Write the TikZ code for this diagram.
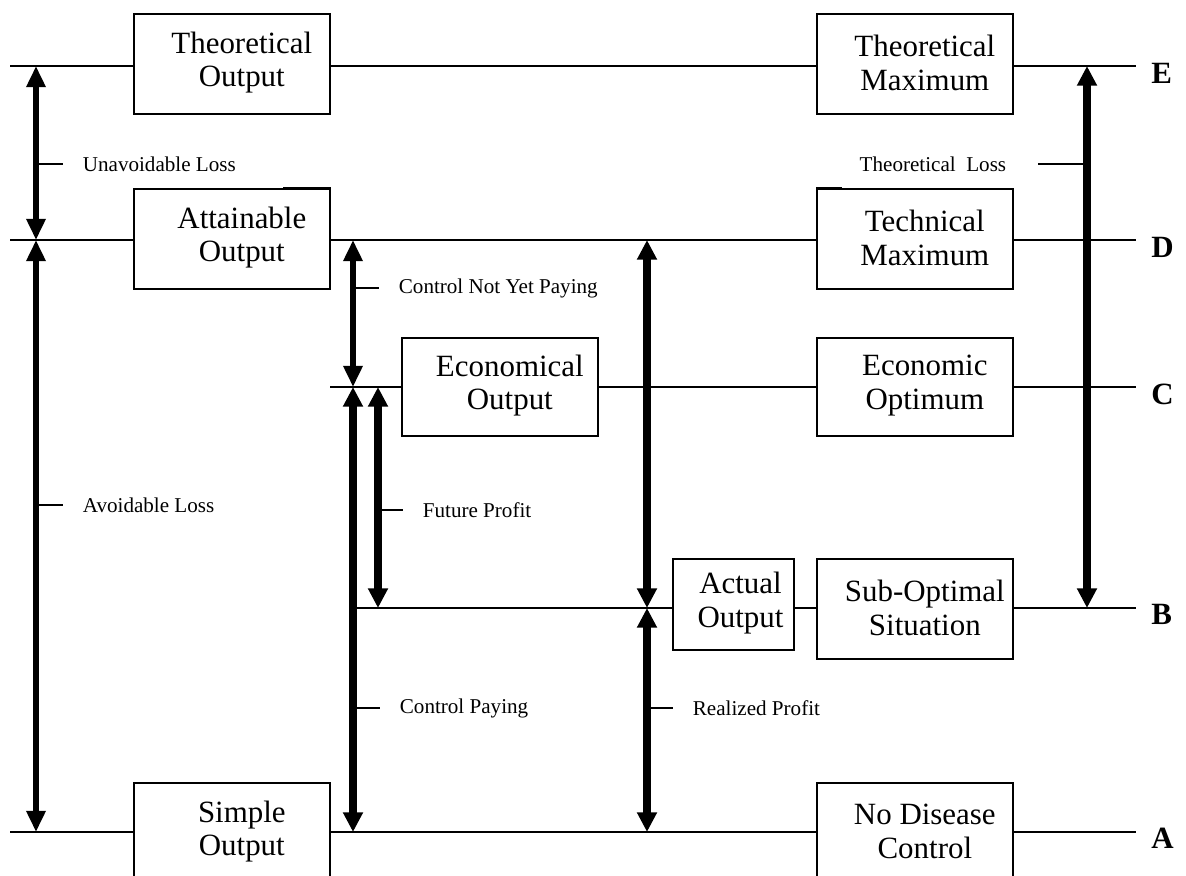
\documentclass[tikz,border=0pt]{standalone}
\usepackage{fontspec}
\setmainfont{Liberation Serif}
\usetikzlibrary{arrows.meta}

\begin{document}
\begin{tikzpicture}[
  x=0.025cm, y=-0.025cm,
  box/.style={rectangle, draw, fill=white, line width=1.3pt,
              minimum width=4.9cm, minimum height=2.5cm, inner sep=0pt},
  boxtxt/.style={align=center, font=\fontsize{22}{24}\selectfont,
                 xshift=7pt, yshift=1pt},
  lvl/.style={line width=1.3pt},
  tick/.style={line width=1.3pt},
  letter/.style={anchor=west, inner sep=0pt,
                 font=\fontsize{22}{24}\selectfont\bfseries},
  lbl/.style={anchor=west, inner sep=0pt, xshift=13.5pt,
              font=\fontsize{15}{17}\selectfont},
  lblleft/.style={anchor=east, inner sep=0pt, xshift=-22pt,
                  font=\fontsize{15}{17}\selectfont},
  dim/.style={{Triangle[width=13pt,length=15pt]}-{Triangle[width=13pt,length=15pt]},
              line width=4pt},
  dimthick/.style={{Triangle[width=13.5pt,length=14pt]}-{Triangle[width=13.5pt,length=14pt]},
                   line width=6pt},
]
  \useasboundingbox (0,0) rectangle (1186,876);
  \clip (0,0) rectangle (1186,876);

  %% -- Output levels ----------------------------------------------------
  \coordinate (E) at (0,66);
  \coordinate (D) at (0,240);
  \coordinate (C) at (0,387);
  \coordinate (B) at (0,608);
  \coordinate (A) at (0,832);

  \draw[lvl] (10,0 |- E)  -- (1136,0 |- E);
  \draw[lvl] (10,0 |- D)  -- (1136,0 |- D);
  \draw[lvl] (330,0 |- C) -- (1136,0 |- C);
  \draw[lvl] (353,0 |- B) -- (1136,0 |- B);
  \draw[lvl] (10,0 |- A)  -- (1136,0 |- A);

  \node[letter] (lE) at (1151,73)  {E};
  \node[letter] (lD) at (1151,247) {D};
  \node[letter] (lC) at (1151,394) {C};
  \node[letter] (lB) at (1151,614) {B};
  \node[letter] (lA) at (1151,838) {A};

  %% -- Boxes ------------------------------------------------------------
  \node[box, label={[boxtxt]center:{Theoretical\\Output}}] (tout) at (232,64)  {};
  \node[box, label={[boxtxt]center:{Attainable\\Output}}]  (aout) at (232,239) {};
  \node[box, label={[boxtxt]center:{Simple\\Output}}]      (sout) at (232,833) {};
  \node[box, minimum height=2.45cm,
        label={[boxtxt]center:{Economical\\Output}}]      (eout) at (500,387) {};
  \node[box, minimum width=3.025cm, minimum height=2.275cm,
        label={[boxtxt, xshift=-2pt]center:{Actual\\Output}}] (act) at (733.5,604.5) {};

  \node[box, label={[boxtxt]center:{Theoretical\\Maximum}}] (tmax) at (915,64)  {};
  \node[box, label={[boxtxt]center:{Technical\\Maximum}}]   (tech) at (915,239) {};
  \node[box, minimum height=2.45cm,
        label={[boxtxt]center:{Economic\\Optimum}}]       (eopt) at (915,387) {};
  \node[box, label={[boxtxt]center:{Sub-Optimal\\Situation}}] (sub) at (915,609) {};
  \node[box, label={[boxtxt]center:{No Disease\\Control}}]  (nodc) at (915,833) {};

  %% stray edges on the box tops
  \draw[lvl] (283,187.5) -- (aout.north east |- 0,187.5);
  \draw[lvl] (tech.north west |- 0,187.5) -- (842,187.5);

  %% -- Loss and profit spans ---------------------------------------------
  \draw[dim]      (36,0 |- E)   -- (36,0 |- D);
  \draw[dim]      (36,0 |- D)   -- (36,0 |- A);
  \draw[dim]      (353,0 |- D)  -- (353,0 |- C);
  \draw[dimthick] (353,0 |- C)  -- (353,0 |- A);
  \draw[dimthick] (378,0 |- C)  -- (378,0 |- B);
  \draw[dimthick] (647,0 |- D)  -- (647,0 |- B);
  \draw[dimthick] (647,0 |- B)  -- (647,0 |- A);
  \draw[dimthick] (1087,0 |- E) -- (1087,0 |- B);

  %% -- Span labels --------------------------------------------------------
  \draw[tick] (36,164)   -- (63,164)   node[lbl] (unav) {Unavoidable Loss};
  \draw[tick] (36,505)   -- (63,505)   node[lbl] (avoid) {Avoidable Loss};
  \draw[tick] (353,288)  -- (379,288)  node[lbl] (cnyp) {Control Not Yet Paying};
  \draw[tick] (378,510)  -- (403,510)  node[lbl] (fprof) {Future Profit};
  \draw[tick] (353,708)  -- (380,708)  node[lbl] (cpay) {Control Paying};
  \draw[tick] (647,708)  -- (673,708)  node[lbl] (rprof) {Realized Profit};
  \draw[tick] (1087,164) -- (1038,164) node[lblleft] (tloss) {Theoretical\ \ Loss};
\end{tikzpicture}
\end{document}
